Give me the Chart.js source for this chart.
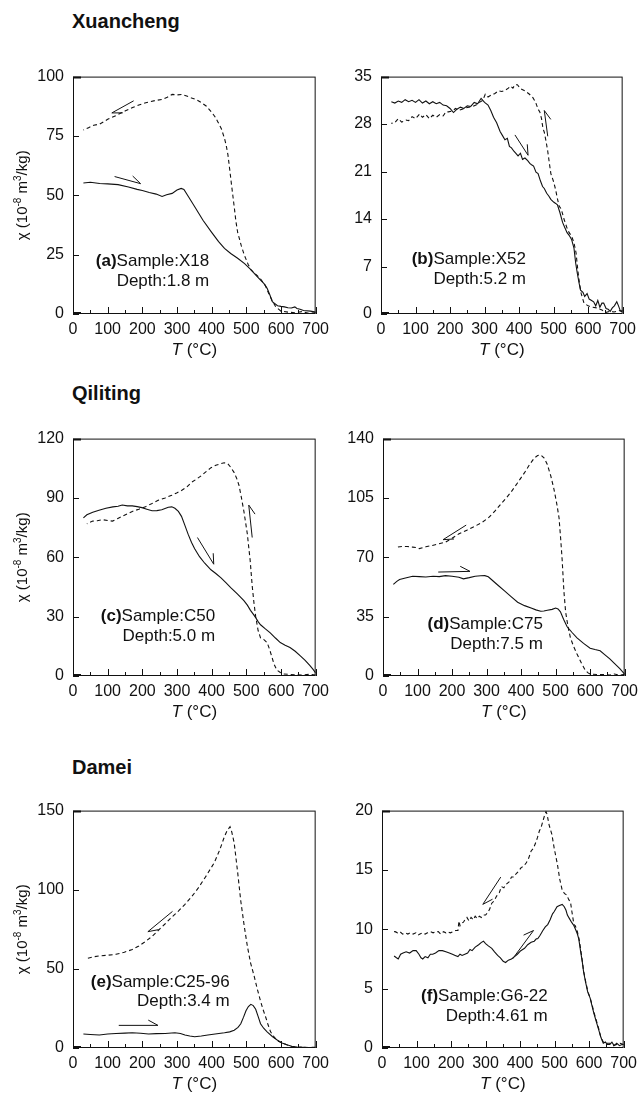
<!DOCTYPE html>
<html>
<head>
<meta charset="utf-8">
<title>Thermomagnetic curves</title>
<script src="https://cdn.jsdelivr.net/npm/chart.js@4.4.1/dist/chart.umd.min.js"></script>
<style>
  body { margin: 0; background: #fff; width: 643px; height: 1102px; position: relative; overflow: hidden;
         font-family: "Liberation Sans", Arial, Helvetica, sans-serif; color: #111; }
  .site { position: absolute; font-weight: bold; font-size: 20px; line-height: 20px; }
  .panel { position: absolute; }
</style>
</head>
<body>
<div class="site" style="left:72px;top:11px">Xuancheng</div>
<div class="site" style="left:72px;top:383px">Qiliting</div>
<div class="site" style="left:72px;top:757px">Damei</div>

<script>
// ── Data: [T (°C), χ (10^-8 m3/kg)] ──
const xTickVals = [0, 100, 200, 300, 400, 500, 600, 700];

// (a) X18
const yTicksA = [0, 25, 50, 75, 100];
const heatA = [[30,55.2],[50,55.5],[77,55],[100,54.8],[130,54.5],[160,53.5],[185,52.5],[200,52],[220,51.2],[240,50.5],[257,49.5],[270,50.2],[286,50.8],[300,52.2],[312,52.9],[320,52.5],[335,49],[352,45],[375,39.5],[400,34.4],[420,30.5],[437,27.6],[455,25.5],[475,23.5],[495,21.2],[513,18.7],[530,16],[551,12.8],[560,10.8],[568,8],[575,5.2],[590,3.5],[600,3.2],[610,3],[620,2.6],[630,2.5],[640,3],[646,2.3],[655,2],[665,1.5],[685,1.2],[700,0.8]];
const coolA = [[700,0.5],[680,0.3],[660,1.0],[640,0.5],[620,0.8],[600,1.2],[585,3],[575,5.5],[565,8.5],[555,12],[540,15],[525,17],[513,18.7],[505,21],[494,24.9],[485,29],[475,34.4],[470,39],[466,44],[461,50],[456,56],[452,61],[447,67],[442,71],[437,74],[428,78],[418,80.9],[410,83],[400,85],[385,87.5],[371,89],[356,90.3],[342,91],[328,91.8],[314,92.5],[300,92.3],[286,92.5],[272,91.3],[257,90.4],[240,90],[225,89.5],[210,89],[190,88],[172,87],[150,85.5],[124,83.6],[100,82],[77,80],[60,79.5],[45,78.5],[30,77.5]];
const arrowsA = [[175,89.8,112,84.7,1],[120,57.9,195,54.9,1]];

// (b) X52
const yTicksB = [0, 7, 14, 21, 28, 35];
const heatB = [[30,31.3],[40,31.1],[50,31.4],[60,31.2],[70,31.6],[80,31.3],[90,31.5],[100,31.2],[110,31.6],[120,31.1],[130,31.4],[140,31.0],[150,31.3],[160,31.0],[170,31.2],[180,30.8],[190,30.7],[200,30.3],[210,29.7],[220,30.2],[230,30.5],[240,30.3],[250,30.7],[260,30.6],[270,31.2],[280,31.0],[290,31.8],[300,31.2],[310,30.8],[318,30.0],[326,29.0],[335,28.2],[345,26.9],[352,26.3],[359,25.7],[366,25.9],[372,24.7],[378,24.5],[385,24.0],[392,23.6],[397,23.3],[404,23.7],[410,22.8],[417,23.0],[425,22.6],[431,22.2],[436,22.0],[442,21.8],[449,20.9],[455,20.7],[462,19.6],[468,18.8],[473,18.5],[480,17.8],[486,17.4],[492,16.9],[500,16.5],[506,16.3],[511,16.1],[518,15.0],[526,13.5],[532,12.8],[539,12.0],[545,11.6],[552,11.0],[559,9.7],[564,7.5],[569,5.9],[574,4.5],[578,3.5],[585,3.2],[590,2.6],[597,3.0],[603,2.2],[610,2.0],[616,1.8],[622,1.2],[628,2.0],[634,1.0],[640,1.6],[645,1.6],[652,0.8],[658,0.7],[664,0.4],[670,0.9],[676,1.2],[683,1.8],[688,1.2],[693,0.5],[697,0.4],[700,0.6]];
const coolB = [[700,0.3],[690,0.5],[675,0.3],[664,0.4],[650,0.2],[640,0.6],[626,0.9],[612,1.0],[600,1.2],[588,1.6],[580,3.0],[575,4.5],[570,6.5],[565,9.0],[559,10.5],[552,11.5],[545,12.0],[538,12.8],[530,14.0],[522,15.5],[516,15.9],[511,17.0],[506,18.3],[500,19.5],[492,20.7],[487,22.5],[483,24.0],[478,25.5],[473,26.8],[469,27.4],[465,28.8],[460,29.8],[455,30.2],[448,31.2],[440,31.9],[430,32.4],[417,32.9],[405,33.2],[395,33.8],[388,33.8],[382,33.3],[375,33.6],[369,33.3],[360,33.0],[350,32.8],[340,32.9],[330,32.5],[320,32.3],[310,32.0],[302,32.4],[295,31.5],[285,31.2],[275,30.8],[265,30.6],[255,30.5],[245,30.4],[235,30.2],[225,30.0],[216,30.3],[205,29.9],[195,29.8],[188,29.8],[180,29.2],[170,29.4],[160,29.0],[150,29.3],[140,28.8],[130,29.4],[120,29.0],[112,29.5],[100,28.8],[90,29.1],[80,28.5],[73,28.6],[60,28.3],[50,28.8],[40,28.2],[30,28.1]];
const arrowsB = [[388,26.4,426,23.4,1],[483,26.2,473,30,-1]];

// (c) C50
const yTicksC = [0, 30, 60, 90, 120];
const heatC = [[30,79.9],[40,81.5],[57,82.8],[75,83.8],[95,84.8],[115,85.5],[130,85.8],[142,86.4],[157,86],[171,86],[185,85.6],[199,85.1],[213,84.3],[228,83.5],[242,83.6],[256,84],[275,85.3],[285,85.5],[294,84.8],[304,83.2],[313,80.7],[322,76.5],[332,71.7],[342,67.5],[351,64.3],[365,60.3],[380,57],[398,53.7],[412,51.8],[427,49.6],[441,47.2],[455,44.7],[474,41.5],[493,38.1],[503,35.8],[512,33.2],[520,31.3],[527,29.5],[534,27.5],[541,25.9],[555,23.8],[569,21.8],[584,19.2],[598,16.9],[612,15.6],[626,14.4],[641,12.5],[655,10.3],[669,8],[683,5.4],[692,3.5],[700,1.5]];
const coolC = [[700,0.5],[680,0.8],[660,0.5],[645,0.6],[625,0.8],[607,1.0],[598,1.8],[588,3],[580,6],[574,9.5],[567,13.5],[560,16.9],[550,18.5],[541,19.3],[534,23],[527,30],[522,37],[517,45.5],[514,52],[511,58.6],[507,65],[503,71.7],[498,77.5],[493,83.2],[486,90],[479,96.3],[472,100],[465,102.8],[455,105.5],[446,107.4],[436,107.8],[427,107.4],[412,106.5],[398,105.3],[384,103.3],[370,101.2],[356,99.5],[342,97.9],[328,95.5],[313,93.8],[299,92.5],[285,91.4],[266,90],[247,88.9],[228,87.2],[209,85.6],[190,84.3],[171,83.2],[157,82],[142,80.7],[128,79.5],[114,78.3],[100,78.6],[85,79],[70,78.5],[57,78.3],[40,77]];
const arrowsC = [[359,70,406,56.5,1],[517,70,507,86.4,-1]];

// (d) C75
const yTicksD = [0, 35, 70, 105, 140];
const heatD = [[30,54],[40,55.8],[48,56.9],[65,57.8],[86,58.8],[105,58.6],[124,58.4],[145,58.8],[163,58.6],[181,59.2],[200,58.8],[220,58.2],[233,57.3],[250,58],[267,58.8],[283,59.1],[295,59.2],[305,58.5],[314,56.9],[333,53.5],[352,50.2],[371,46.8],[390,43.5],[410,41.5],[429,40.1],[443,39],[457,38.2],[466,38.3],[476,38.8],[490,39.3],[500,40.1],[507,39.5],[514,37.8],[523,33.5],[533,29.2],[547,25.8],[562,22.5],[581,19.2],[600,16.4],[614,15.6],[629,14.9],[643,12.5],[657,10.1],[671,7.3],[686,4.4],[700,1.1]];
const coolD = [[700,1],[685,0.5],[670,1.2],[657,0.6],[640,0.8],[620,0.9],[600,1.1],[593,2],[586,3.4],[575,7.5],[562,13],[552,17.5],[543,22.5],[536,29],[529,37.8],[524,50],[519,68.4],[515,80],[510,93.2],[503,102],[495,110.4],[486,118],[476,124.7],[467,128.5],[457,130.4],[448,130],[438,128.5],[424,124.5],[410,119.9],[390,114],[371,108.5],[357,105],[343,101.8],[324,97.2],[305,93.2],[286,90.5],[267,88.4],[243,86],[219,83.7],[200,81.2],[181,78.9],[162,78],[143,77],[124,76.2],[105,75.1],[95,75.8],[86,76],[70,76.4],[57,76.4],[40,76]];
const arrowsD = [[241,89,174,80.4,1],[160,61.3,252,61.7,1]];

// (e) C25-96
const yTicksE = [0, 50, 100, 150];
const heatE = [[30,8.8],[50,8.5],[76,8.2],[100,8.8],[124,9.2],[150,9.4],[171,9.6],[195,9.3],[218,8.8],[240,9.1],[266,9.2],[294,9.6],[310,9.2],[323,8.2],[337,7.6],[351,7.1],[370,7.6],[389,8.2],[410,8.8],[437,9.6],[452,10.2],[465,11.2],[476,13],[484,15.3],[492,19.5],[499,23.5],[506,26.2],[513,27.6],[520,26.8],[527,24.5],[534,20],[541,15.3],[550,12.5],[560,10.2],[575,7.3],[589,5.1],[603,3.2],[617,2],[631,1.1],[646,0.6],[670,0.4],[700,0.3]];
const coolE = [[700,0.5],[680,0.3],[660,0.6],[646,0.4],[630,1],[617,2],[603,3.2],[589,4.7],[580,7],[570,10.2],[563,14.5],[556,19.4],[548,24.5],[541,29.6],[532,37],[522,45.9],[512,54],[503,64.3],[494,77],[484,92.9],[475,111],[465,129.6],[458,136.5],[453,139.8],[445,137.5],[437,133.7],[423,125],[408,117.3],[385,109],[361,101],[342,95.5],[323,90.8],[304,86.5],[285,82.7],[266,78.5],[247,74.5],[228,70.5],[209,67.3],[190,64.5],[171,62.2],[148,60.5],[124,59.2],[100,58.6],[76,58.2],[57,57.5],[38,56.5]];
const arrowsE = [[287,86.3,216,73.5,1],[132,14.3,245,14.3,1]];

// (f) G6-22
const yTicksF = [0, 5, 10, 15, 20];
const heatF = [[35,7.75],[42,7.6],[47,7.5],[54,7.9],[61,8.0],[70,8.1],[80,8.0],[90,8.2],[99,8.2],[107,7.9],[113,7.6],[118,7.5],[125,7.7],[133,7.6],[140,7.9],[147,7.9],[155,8.0],[165,8.2],[175,8.2],[185,8.1],[195,8.0],[204,7.9],[212,7.8],[220,7.7],[226,7.9],[232,7.8],[240,7.9],[248,8.0],[255,8.3],[261,8.2],[270,8.5],[280,8.7],[288,8.9],[294,9.0],[300,8.8],[308,8.6],[318,8.4],[326,8.1],[335,7.8],[343,7.6],[351,7.3],[358,7.2],[366,7.4],[375,7.5],[384,7.7],[392,7.9],[402,8.2],[413,8.4],[422,8.7],[432,8.9],[441,9.0],[447,9.2],[451,9.2],[458,9.5],[466,9.9],[473,10.2],[480,10.4],[487,10.8],[494,11.3],[499,11.5],[507,11.9],[514,12.0],[522,12.1],[528,11.9],[533,11.6],[537,11.2],[543,10.9],[549,10.6],[556,10.3],[562,9.9],[566,9.6],[570,9.2],[575,8.2],[580,7.3],[584,6.4],[590,5.5],[596,4.7],[603,4.2],[608,3.6],[614,2.9],[619,2.4],[622,2.1],[628,1.5],[634,0.9],[641,0.4],[647,0.5],[653,0.3],[660,0.3],[666,0.5],[672,0.2],[680,0.4],[688,0.2],[695,0.3],[700,0.3]];
const coolF = [[700,0.3],[690,0.4],[680,0.3],[670,0.2],[660,0.4],[650,0.4],[641,0.5],[634,0.9],[628,1.6],[622,2.2],[614,3.0],[608,3.7],[603,4.2],[596,4.8],[590,5.6],[584,6.5],[578,7.8],[572,9.0],[566,9.8],[560,10.3],[556,10.4],[550,11.5],[546,12.3],[541,12.5],[535,12.9],[529,13.0],[522,13.3],[515,14.2],[508,15.5],[499,16.8],[492,18.0],[484,18.8],[478,19.7],[475,19.9],[470,19.5],[465,19.0],[460,18.5],[456,18.3],[450,17.7],[444,17.2],[438,16.8],[432,16.6],[425,16.0],[418,15.6],[410,15.3],[403,15.2],[396,14.9],[389,14.7],[382,14.4],[375,14.4],[368,14.0],[360,13.8],[353,13.5],[346,13.6],[340,13.1],[332,12.8],[325,12.4],[318,12.2],[312,11.7],[306,11.4],[300,11.2],[294,11.2],[288,11.0],[282,11.1],[276,10.9],[270,11.1],[264,10.8],[258,11.0],[252,10.7],[246,11.0],[242,10.9],[236,10.6],[230,10.5],[226,10.3],[223,10.7],[220,9.9],[213,9.9],[205,9.8],[198,9.7],[190,9.8],[185,9.7],[178,9.8],[170,9.6],[163,9.8],[156,9.8],[148,9.7],[140,9.8],[132,9.7],[125,9.6],[118,9.7],[110,9.6],[104,9.5],[98,9.7],[90,9.6],[82,9.7],[75,9.6],[68,9.7],[60,9.6],[52,9.8],[45,9.7],[38,9.8],[35,9.8]];
const arrowsF = [[344,14.4,292,12.1,1],[378,7.5,439,9.9,1]];

// ── Panel layout (plot-area pixel boxes) ──
const FONT = '"Liberation Sans", Arial, Helvetica, sans-serif';
const INK = '#111';
const AXIS_W = 73, PAD_TOP = 12, PAD_RIGHT = 16, XAXIS_H = 48;

const panels = [
  { heat: heatA, cool: coolA, yTicks: yTicksA, arrows: arrowsA, tag: '(a)', sample: 'Sample:X18', depth: 'Depth:1.8 m', at: [393, 22], left: 73, top: 70, w: 246, h: 244, yTitle: true },
  { heat: heatB, cool: coolB, yTicks: yTicksB, arrows: arrowsB, tag: '(b)', sample: 'Sample:X52', depth: 'Depth:5.2 m', at: [420, 8.0], left: 381, top: 70, w: 245, h: 244 },
  { heat: heatC, cool: coolC, yTicks: yTicksC, arrows: arrowsC, tag: '(c)', sample: 'Sample:C50', depth: 'Depth:5.0 m', at: [410, 30], left: 73, top: 432, w: 246, h: 244, yTitle: true },
  { heat: heatD, cool: coolD, yTicks: yTicksD, arrows: arrowsD, tag: '(d)', sample: 'Sample:C75', depth: 'Depth:7.5 m', at: [463, 30.4], left: 383, top: 432, w: 245, h: 244 },
  { heat: heatE, cool: coolE, yTicks: yTicksE, arrows: arrowsE, tag: '(e)', sample: 'Sample:C25-96', depth: 'Depth:3.4 m', at: [452, 41.8], left: 73, top: 804, w: 246, h: 244, yTitle: true },
  { heat: heatF, cool: coolF, yTicks: yTicksF, arrows: arrowsF, tag: '(f)', sample: 'Sample:G6-22', depth: 'Depth:4.61 m', at: [480, 4.34], left: 382, top: 804, w: 245, h: 244 },
];

// ── Frame, inward ticks, arrows, labels and axis titles ──
const panelPlugin = {
  id: 'panelDeco',
  afterDraw(chart, args, p) {
    const { ctx, chartArea: a, scales: { x, y } } = chart;
    ctx.save();
    ctx.strokeStyle = INK;
    ctx.fillStyle = INK;
    ctx.lineWidth = 1;

    // frame
    ctx.strokeRect(a.left + 0.5, a.top + 0.5, a.right - a.left - 1, a.bottom - a.top - 1);

    // x ticks (every 50, longer at 100s)
    ctx.beginPath();
    for (let i = 0; i < xTickVals.length; i++) {
      const v = xTickVals[i];
      const px = Math.round(x.getPixelForValue(v)) + 0.5;
      ctx.moveTo(px, a.bottom); ctx.lineTo(px, a.bottom - 7);
      if (i < xTickVals.length - 1) {
        const m = Math.round(x.getPixelForValue((v + xTickVals[i + 1]) / 2)) + 0.5;
        ctx.moveTo(m, a.bottom); ctx.lineTo(m, a.bottom - 4);
      }
    }
    // y ticks
    p.yTicks.forEach(v => {
      const py = Math.round(y.getPixelForValue(v)) + 0.5;
      ctx.moveTo(a.left, py); ctx.lineTo(a.left + 6, py);
    });
    ctx.stroke();
    // heavier corner stubs like the original
    ctx.lineWidth = 2;
    ctx.beginPath();
    ctx.moveTo(a.left, a.top + 1); ctx.lineTo(a.left + 8, a.top + 1);
    ctx.moveTo(a.left, a.bottom - 1); ctx.lineTo(a.left + 8, a.bottom - 1);
    ctx.stroke();

    // half-headed arrows
    ctx.lineWidth = 1;
    p.arrows.forEach(([t0, v0, t1, v1, side]) => {
      const x0 = x.getPixelForValue(t0), y0 = y.getPixelForValue(v0);
      const x1 = x.getPixelForValue(t1), y1 = y.getPixelForValue(v1);
      const back = Math.atan2(y0 - y1, x0 - x1) + side * 0.5;
      ctx.beginPath();
      ctx.moveTo(x0, y0); ctx.lineTo(x1, y1);
      ctx.lineTo(x1 + 11 * Math.cos(back), y1 + 11 * Math.sin(back));
      ctx.stroke();
    });

    // sample label, right aligned
    const rx = x.getPixelForValue(p.at[0]), ry = y.getPixelForValue(p.at[1]);
    ctx.textBaseline = 'middle';
    ctx.textAlign = 'left';
    ctx.font = '17px ' + FONT;
    const ws = ctx.measureText(p.sample).width;
    const wd = ctx.measureText(p.depth).width;
    ctx.font = 'bold 17px ' + FONT;
    const wt = ctx.measureText(p.tag).width;
    ctx.fillText(p.tag, rx - ws - wt, ry);
    ctx.font = '17px ' + FONT;
    ctx.fillText(p.sample, rx - ws, ry);
    ctx.fillText(p.depth, rx - wd, ry + 19.5);

    // x title: T (°C) with italic T
    const cx = (a.left + a.right) / 2, ty = a.bottom + 36;
    ctx.font = 'italic 17px ' + FONT;
    const wT = ctx.measureText('T').width;
    ctx.font = '17px ' + FONT;
    const wU = ctx.measureText(' (°C)').width;
    let sx = cx - (wT + wU) / 2;
    ctx.font = 'italic 17px ' + FONT;
    ctx.fillText('T', sx, ty);
    ctx.font = '17px ' + FONT;
    ctx.fillText(' (°C)', sx + wT, ty);

    // y title: χ (10^-8 m^3/kg)
    if (p.yTitle) {
      const parts = [['χ (10', 15, 0], ['-8', 10, -5], [' m', 15, 0], ['3', 10, -5], ['/kg)', 15, 0]];
      let total = 0;
      parts.forEach(([s, f]) => { ctx.font = f + 'px ' + FONT; total += ctx.measureText(s).width; });
      ctx.translate(a.left - 50, (a.top + a.bottom) / 2);
      ctx.rotate(-Math.PI / 2);
      let px = -total / 2;
      parts.forEach(([s, f, dy]) => {
        ctx.font = f + 'px ' + FONT;
        ctx.fillText(s, px, dy);
        px += ctx.measureText(s).width;
      });
    }
    ctx.restore();
  }
};

function makePanel(p) {
  const wrap = document.createElement('div');
  wrap.className = 'panel';
  const cw = AXIS_W + p.w + PAD_RIGHT, ch = PAD_TOP + p.h + XAXIS_H;
  wrap.style.left = (p.left - AXIS_W) + 'px';
  wrap.style.top = (p.top - PAD_TOP) + 'px';
  wrap.style.width = cw + 'px';
  wrap.style.height = ch + 'px';
  const canvas = document.createElement('canvas');
  canvas.width = cw; canvas.height = ch;
  wrap.appendChild(canvas);
  document.body.appendChild(wrap);

  const toPts = arr => arr.map(([t, v]) => ({ x: t, y: v }));

  new Chart(canvas.getContext('2d'), {
    type: 'scatter',
    data: {
      datasets: [
        { label: 'heating', data: toPts(p.heat), showLine: true, borderColor: INK, borderWidth: 1.1, pointRadius: 0, tension: 0 },
        { label: 'cooling', data: toPts(p.cool), showLine: true, borderColor: INK, borderWidth: 1.1, borderDash: [4, 3], pointRadius: 0, tension: 0 },
      ]
    },
    options: {
      responsive: false,
      animation: false,
      events: [],
      layout: { padding: { top: PAD_TOP, right: PAD_RIGHT, left: 0, bottom: 0 } },
      scales: {
        x: {
          type: 'linear', min: 0, max: 700,
          grid: { display: false, drawTicks: false },
          border: { display: false },
          afterBuildTicks: s => { s.ticks = xTickVals.map(v => ({ value: v })); },
          afterFit: s => { s.height = XAXIS_H; },
          ticks: { color: INK, padding: 6, maxRotation: 0, autoSkip: false, font: { size: 16, family: FONT } },
        },
        y: {
          type: 'linear', min: 0, max: p.yTicks[p.yTicks.length - 1],
          grid: { display: false, drawTicks: false },
          border: { display: false },
          afterBuildTicks: s => { s.ticks = p.yTicks.map(v => ({ value: v })); },
          afterFit: s => { s.width = AXIS_W; },
          ticks: { color: INK, padding: 9, autoSkip: false, font: { size: 16, family: FONT } },
        }
      },
      plugins: {
        legend: { display: false },
        tooltip: { enabled: false },
        panelDeco: p,
      }
    },
    plugins: [panelPlugin]
  });
}

panels.forEach(makePanel);
</script>
</body>
</html>
